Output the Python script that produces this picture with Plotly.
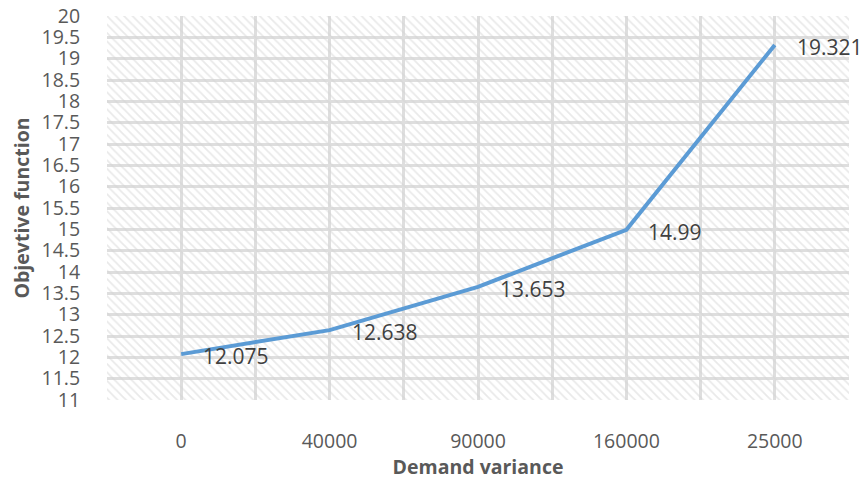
import plotly.graph_objects as go

# Demand variance scenarios and the resulting objective value
categories = ["0", "40000", "90000", "160000", "25000"]
objective = [12.075, 12.638, 13.653, 14.99, 19.321]

y_min, y_max, y_step = 11, 20, 0.5
x_min, x_max = -0.5, len(categories) - 0.5

text_color = "#595959"
grid_color = "#dedede"
line_color = "#5b9bd5"
font_family = "'Open Sans', Lato, sans-serif"

xs = list(range(len(categories)))

fig = go.Figure()

# Hatched plot-area background
fig.add_trace(go.Scatter(
    x=[x_min, x_max, x_max, x_min, x_min],
    y=[y_min, y_min, y_max, y_max, y_min],
    mode="lines",
    line=dict(width=0),
    fill="toself",
    fillcolor="rgba(0,0,0,0)",
    fillpattern=dict(shape="\\", fgcolor="#d4d4d4", bgcolor="rgba(0,0,0,0)",
                     size=6, solidity=0.3),
    hoverinfo="skip",
    showlegend=False,
))

# Objective function line
fig.add_trace(go.Scatter(
    x=xs,
    y=objective,
    mode="lines",
    line=dict(color=line_color, width=4),
    showlegend=False,
))

# Value labels to the right of each point
for xi, v in zip(xs, objective):
    fig.add_annotation(
        x=xi, y=v, text=f"{v:g}", showarrow=False,
        xanchor="left", yanchor="middle", xshift=20, yshift=-2,
        font=dict(family=font_family, size=21, color="#404040"),
    )

minor_x = [x_min + i for i in range(len(categories) + 1)]

fig.update_layout(
    width=865, height=480,
    margin=dict(l=107, r=16, t=16, b=80),
    paper_bgcolor="white",
    plot_bgcolor="white",
    font=dict(family=font_family, color=text_color),
    xaxis=dict(
        range=[x_min, x_max],
        automargin=False,
        tickmode="array", tickvals=xs, ticktext=categories,
        tickfont=dict(size=19.5, color=text_color),
        showgrid=True, gridcolor=grid_color, gridwidth=2.5,
        minor=dict(tickmode="array", tickvals=minor_x, showgrid=True,
                   gridcolor=grid_color, gridwidth=2.5),
        ticks="outside", ticklen=24, tickcolor="rgba(0,0,0,0)",
        zeroline=False, showline=False,
        title=dict(text="<b>Demand variance</b>",
                   font=dict(size=19.5, color=text_color), standoff=12),
    ),
    yaxis=dict(
        range=[y_min, y_max],
        automargin=False,
        tick0=y_min, dtick=y_step,
        tickfont=dict(size=19.5, color=text_color),
        showgrid=True, gridcolor=grid_color, gridwidth=2.5,
        ticks="outside", ticklen=22, tickcolor="rgba(0,0,0,0)",
        zeroline=False, showline=False,
        title=dict(text="<b>Objevtive function</b>",
                   font=dict(size=19.5, color=text_color), standoff=6),
    ),
)

fig.write_html("out.html")
